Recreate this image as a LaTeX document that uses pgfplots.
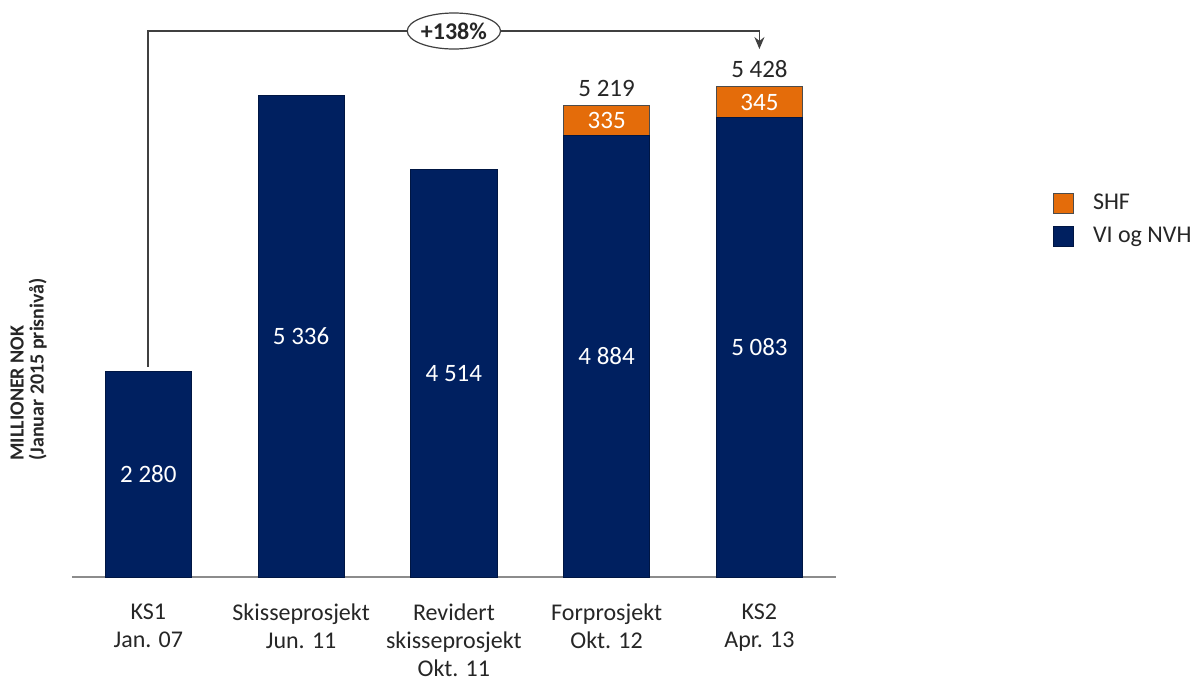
\documentclass[border=0pt]{standalone}
\usepackage{pgfplots}
\pgfplotsset{compat=1.18}
\usepackage{pgfplotstable}
\usepackage{fontspec}
\setmainfont{Carlito}
\usetikzlibrary{arrows.meta,shapes.geometric}

\definecolor{navy}{HTML}{002060}
\definecolor{shforange}{HTML}{E46C0A}
\definecolor{txt}{HTML}{262626}

% cost per phase, million NOK (January 2015 prices)
\pgfplotstableread{
x vi shf tot
0 2280 0 0
1 5336 0 0
2 4514 0 0
3 4884 335 5219
4 5083 345 5428
}\costs

\begin{document}
\begin{tikzpicture}
\useasboundingbox (0,0) rectangle (595pt,339.5pt);
\begin{axis}[
  at={(36pt,51pt)}, anchor=south west,
  scale only axis, width=381.9pt, height=280pt,
  ybar stacked, bar width=0.563,
  xmin=-0.5, xmax=4.5, ymin=0, ymax=6200,
  clip=false,
  axis y line=none,
  axis x line*=bottom,
  x axis line style={-, draw=black!45, line width=0.8pt},
  xtick={0,1,2,3,4}, major tick length=0pt,
  xticklabels={{KS1\\Jan. 07},{Skisseprosjekt\\Jun. 11},{Revidert\\skisseprosjekt\\Okt. 11},{Forprosjekt\\Okt. 12},{KS2\\Apr. 13}},
  xticklabel style={align=center, font=\fontsize{12}{14}\selectfont, text=txt, anchor=north, inner sep=0pt, yshift=-13.2pt},
  /pgf/number format/assume math mode=true,
  /pgf/number format/1000 sep={\ },
  legend cell align=left,
  legend image code/.code={\draw[#1] (0pt,-5pt) rectangle (10pt,5pt);},
  legend style={draw=none, at={(1,0.686)}, anchor=north west, xshift=108.5pt, yshift=1.5pt,
    inner sep=0pt, font=\fontsize{12}{14}\selectfont, text=txt, row sep=3pt,
    /tikz/every odd column/.append style={column sep=7.5pt}},
]
\addlegendimage{fill=shforange, draw=black!70, line width=0.4pt}
\addlegendentry{SHF}
\addlegendimage{fill=navy, draw=navy!70!black, line width=0.4pt}
\addlegendentry{VI og NVH}

\addplot[fill=navy, draw=navy!70!black, line width=0.4pt,
  visualization depends on={\thisrow{vi}\as\segv},
  nodes near coords={\pgfmathprintnumber{\segv}},
  nodes near coords style={anchor=center, text=white,
    font=\fontsize{12.5}{14}\selectfont}]
  table[x=x, y=vi]{\costs};
\addplot[fill=shforange, draw=black!70, line width=0.4pt,
  visualization depends on={\thisrow{shf}\as\segv},
  nodes near coords={\ifdim\segv pt>0pt \pgfmathprintnumber{\segv}\fi},
  nodes near coords style={anchor=center, text=white,
    font=\fontsize{12.5}{14}\selectfont}]
  table[x=x, y=shf]{\costs};
% totals written above the stacked bars (labels move from mid-bar to the top)
\addplot[stack plots=false, draw=none, fill=none,
  visualization depends on={\thisrow{tot}\as\segtot},
  nodes near coords={\ifdim\segtot pt>0pt \pgfmathprintnumber{\segtot}\fi},
  nodes near coords style={anchor=south, text=txt, inner sep=4.5pt,
    font=\fontsize{12.5}{14}\selectfont,
    shift={(axis direction cs:0,\segtot/2)}}]
  table[x=x, y=tot]{\costs};
% growth from KS1 to KS2
\draw[line width=0.9pt, draw=black!75, -{Stealth[length=6pt,width=5pt]}]
  (axis cs:0,2325) |- (axis cs:4,6045) -- (axis cs:4,5845);
\coordinate (growth) at (axis cs:2,6045);
\end{axis}
\node[ellipse, draw=black!75, line width=0.6pt, fill=white, minimum width=45pt,
  minimum height=18pt, inner sep=0pt, font=\bfseries\fontsize{12}{14}\selectfont, text=txt]
  at (growth) {+138\%};
\node[rotate=90, anchor=north west, align=left, inner sep=0pt, text=txt,
  font=\bfseries\fontsize{10}{10}\selectfont] at (5pt,109pt)
  {MILLIONER NOK\\(Januar 2015 prisnivå)};
\end{tikzpicture}
\end{document}
